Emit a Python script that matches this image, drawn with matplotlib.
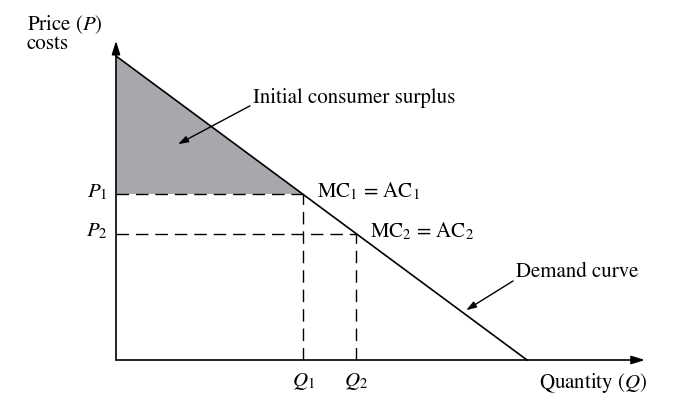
import matplotlib.pyplot as plt
from matplotlib.patches import Polygon

plt.rcParams['font.family'] = ['STIXGeneral']
plt.rcParams['mathtext.fontset'] = 'stix'

# demand curve P = a - b*Q (end points)
demand_q = [0.0, 10.0]
demand_p = [10.0, 0.0]
# equilibrium points
q_points = [4.55, 5.85]
p_points = [5.45, 4.15]
q_labels = [r'$Q_1$', r'$Q_2$']
p_labels = [r'$P_1$', r'$P_2$']
mc_labels = [r'MC$_1$ = AC$_1$', r'MC$_2$ = AC$_2$']
x_max = 12.87
y_max = 10.5

fig = plt.figure(figsize=(6.95, 4.06), dpi=100)
ax = fig.add_axes([0, 0, 1, 1])
ax.set_xlim(-116 / 41.1, 579 / 41.1)
ax.set_ylim(-45 / 30.4, 361 / 30.4)
ax.axis('off')

fs = 15

# shaded consumer surplus
tri = Polygon([(0, demand_p[0]), (0, p_points[0]), (q_points[0], p_points[0])],
              closed=True, facecolor='#a7a8ab', edgecolor='none', zorder=1)
ax.add_patch(tri)

# axes with arrows
arrow = dict(arrowstyle='-|>,head_length=0.8,head_width=0.25', color='black', lw=1.2,
             shrinkA=0, shrinkB=0)
ax.annotate('', xy=(0, y_max), xytext=(0, 0), arrowprops=arrow)
ax.annotate('', xy=(x_max, 0), xytext=(0, 0), arrowprops=arrow)

# demand curve
ax.plot(demand_q, demand_p, color='black', lw=1.2, zorder=3)

# dashed guides
for q, p in zip(q_points, p_points):
    ax.plot([0, q], [p, p], color='black', lw=1.0, dashes=(9, 5), zorder=2)
    ax.plot([q, q], [0, p], color='black', lw=1.0, dashes=(9, 5), zorder=2)

for q, lab in zip(q_points, q_labels):
    ax.text(q, -0.82, lab, ha='center', va='baseline', fontsize=fs)
for p, lab in zip(p_points, p_labels):
    ax.text(-0.2, p + 0.1, lab, ha='right', va='center', fontsize=fs)
for q, p, lab in zip(q_points, p_points, mc_labels):
    ax.text(q + 0.33, p + 0.12, lab, ha='left', va='center', fontsize=fs)

ax.text(-2.17, 10.89, r'Price ($P$)', ha='left', va='baseline', fontsize=fs)
ax.text(-2.17, 10.27, 'costs', ha='left', va='baseline', fontsize=fs)
ax.text(10.3, -0.89, r'Quantity ($Q$)', ha='left', va='baseline', fontsize=fs)

small_arrow = dict(arrowstyle='-|>,head_length=0.6,head_width=0.2', color='black', lw=1.0,
                   shrinkA=0, shrinkB=0)
ax.annotate('', xy=(1.51, 7.1), xytext=(3.26, 8.36), arrowprops=small_arrow)
ax.text(3.33, 8.65, 'Initial consumer surplus', ha='left', va='center', fontsize=fs)
ax.annotate('', xy=(8.52, 1.64), xytext=(9.66, 2.6), arrowprops=small_arrow)
ax.text(9.73, 2.93, 'Demand curve', ha='left', va='center', fontsize=fs)

fig.savefig('out.png', dpi=100)
